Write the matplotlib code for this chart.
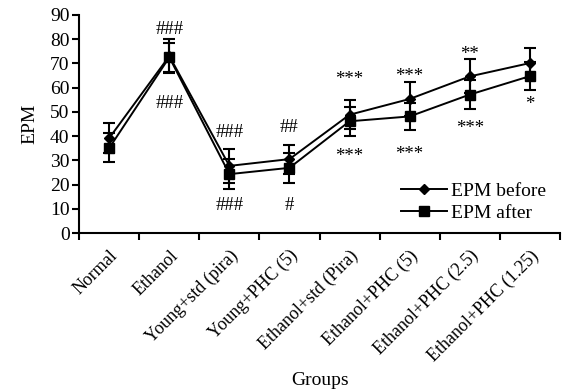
import numpy as np
import matplotlib.pyplot as plt
from matplotlib.lines import Line2D

plt.rcParams['font.family'] = ['Liberation Serif', 'DejaVu Serif']

groups = ['Normal', 'Ethanol', 'Young+std (pira)', 'Young+PHC (5)',
          'Ethanol+std (Pira)', 'Ethanol+PHC (5)', 'Ethanol+PHC (2.5)',
          'Ethanol+PHC (1.25)']
before = [39.2, 73.0, 27.7, 30.5, 48.8, 55.3, 64.6, 70.1]
before_err = [6.0, 7.0, 7.0, 6.0, 6.0, 7.0, 7.0, 6.3]
after = [35.1, 72.5, 24.3, 26.9, 46.1, 48.1, 57.1, 64.7]
after_err = [6.0, 6.0, 6.3, 6.2, 6.0, 5.5, 6.0, 5.7]

# significance marks: (text, y position)
marks_above = ['', '###', '###', '##', '***', '***', '**', '']
marks_above_y = [0, 84, 41.5, 43.6, 63.5, 64.5, 73.5, 0]
marks_below = ['', '###', '###', '#', '***', '***', '***', '*']
marks_below_y = [0, 53.5, 11.5, 11.5, 31.5, 32.5, 43.2, 53]

fig = plt.figure(figsize=(5.66, 3.91), dpi=100)
ax = fig.add_axes([0.14, 0.404, 0.849, 0.558])

x = np.arange(len(groups))
ax.errorbar(x, before, yerr=before_err, color='black', marker='D', ms=5,
            lw=1.4, capsize=4, elinewidth=1.5, capthick=1.5)
ax.errorbar(x, after, yerr=after_err, color='black', marker='s', ms=7.5,
            lw=1.4, capsize=4, elinewidth=1.5, capthick=1.5)

for i in range(len(groups)):
    if marks_above[i]:
        ax.text(x[i], marks_above_y[i], marks_above[i], ha='center', va='center', fontsize=13.5)
    if marks_below[i]:
        ax.text(x[i], marks_below_y[i], marks_below[i], ha='center', va='center', fontsize=13.5)

ax.set_xlim(-0.5, len(groups) - 0.5)
ax.set_ylim(0, 90)
ax.set_yticks(range(0, 91, 10))
ax.set_xticks(x)
ax.set_xticklabels(groups, rotation=45, ha='right', rotation_mode='anchor', fontsize=13)
ax.set_xticks(np.arange(-0.5, len(groups)), minor=True)
ax.tick_params(axis='x', which='major', length=0, pad=10)
ax.tick_params(axis='x', which='minor', length=5, width=1.5, direction='out')
ax.tick_params(axis='y', length=5, width=1.5, labelsize=14, pad=2)
for s in ['top', 'right']:
    ax.spines[s].set_visible(False)
for s in ['left', 'bottom']:
    ax.spines[s].set_linewidth(1.5)

ax.set_ylabel('EPM', fontsize=14, labelpad=8)
fig.text(0.565, 0.028, 'Groups', ha='center', va='center', fontsize=14)

handles = [Line2D([], [], color='black', marker='D', ms=5, lw=1.4),
           Line2D([], [], color='black', marker='s', ms=7.5, lw=1.4)]
ax.legend(handles, ['EPM before', 'EPM after'], loc='lower right',
          bbox_to_anchor=(1.0, -0.01), frameon=False, fontsize=14,
          handlelength=2.4, handletextpad=0.2, labelspacing=0.2, borderpad=0.2)

fig.savefig('out.png', dpi=100)
